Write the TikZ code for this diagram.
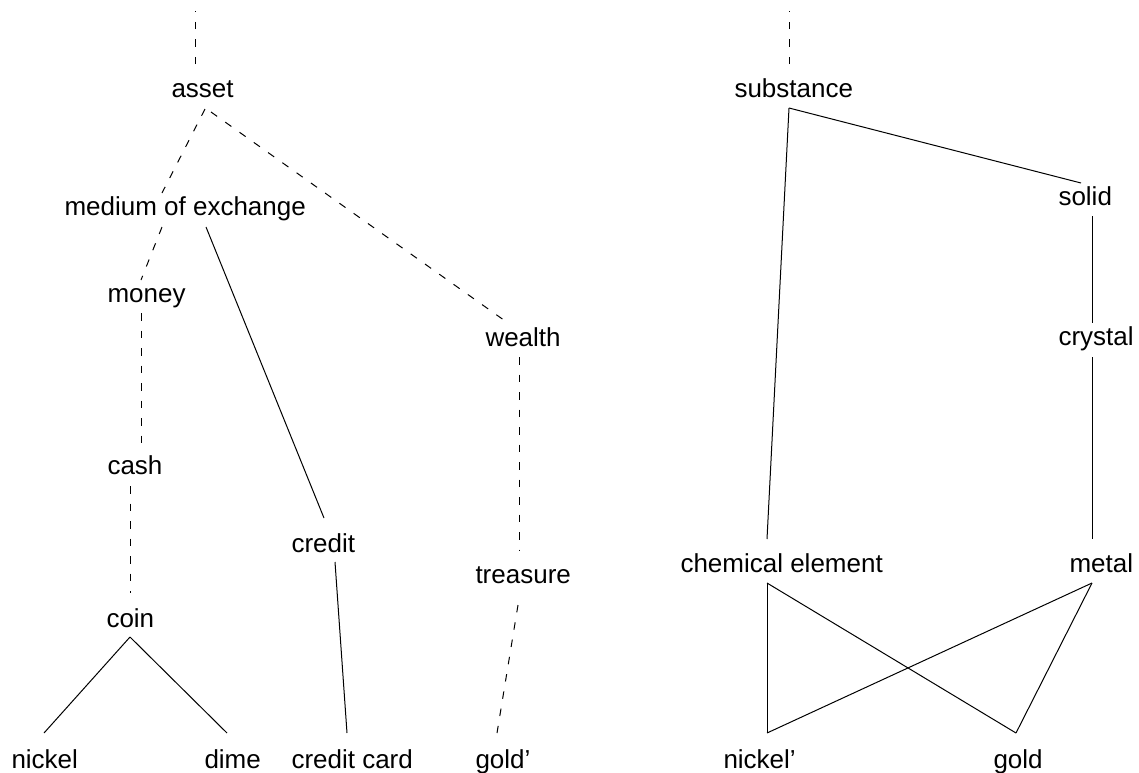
\documentclass[tikz,border=0pt]{standalone}
\usepackage{fontspec}
\setmainfont{Liberation Sans}
\begin{document}
\begin{tikzpicture}[x=1pt,y=-1pt,
  lbl/.style={anchor=base west, inner sep=0pt, outer sep=0pt, font=\fontsize{26}{31}\selectfont},
  link/.style={line width=1pt, black},
  dlink/.style={link, dash pattern=on 7.5pt off 10pt}]
\useasboundingbox (0,0) rectangle (1139,772);
% ---------- left tree: labels ----------
\node[lbl] (asset)  at (171.5,97)  {asset};
\node[lbl] (medium) at (64.5,215)  {medium of exchange};
\node[lbl] (money)  at (107.5,302) {money};
\node[lbl] (cash)   at (107.5,474) {cash};
\node[lbl] (coin)   at (106.5,627) {coin};
\node[lbl] (nickel) at (11.5,768)  {nickel};
\node[lbl] (dime)   at (204.5,768) {dime};
\node[lbl] (credit) at (291.5,552) {credit};
\node[lbl] (ccard)  at (291.5,768) {credit card};
\node[lbl] (wealth) at (485.5,346) {wealth};
\node[lbl] (treas)  at (475.5,583) {treasure};
\node[lbl] (goldp)  at (475.5,768) {gold’};
% ---------- right tree: labels ----------
\node[lbl] (subst)  at (734.5,97)  {substance};
\node[lbl] (solid)  at (1058.5,205) {solid};
\node[lbl] (cryst)  at (1058.5,345) {crystal};
\node[lbl] (chem)   at (680.5,572) {chemical element};
\node[lbl] (metal)  at (1069.5,572) {metal};
\node[lbl] (nickp)  at (723.5,768) {nickel’};
\node[lbl] (gold)   at (993.5,768) {gold};
% ---------- connection points (left) ----------
\coordinate (topL)     at (195,11);
\coordinate (assetT)   at (195,64);
\coordinate (assetB1)  at (205,109);
\coordinate (assetB2)  at (211,112);
\coordinate (mediumT)  at (162,193);
\coordinate (mediumB1) at (162,227);
\coordinate (mediumB2) at (206,227);
\coordinate (moneyT)   at (141,280);
\coordinate (moneyB)   at (141,313);
\coordinate (cashT)    at (141,443);
\coordinate (cashB)    at (130,486);
\coordinate (coinT)    at (130,593);
\coordinate (coinB)    at (130,637);
\coordinate (nickelT)  at (44,733);
\coordinate (dimeT)    at (227,733);
\coordinate (creditT)  at (324,518);
\coordinate (creditB)  at (335,562);
\coordinate (ccardT)   at (347,733);
\coordinate (wealthT)  at (508,323);
\coordinate (wealthB)  at (519,357);
\coordinate (treasT)   at (519,551);
\coordinate (treasB)   at (518,605);
\coordinate (goldpT)   at (497,733);
% ---------- connection points (right) ----------
\coordinate (topR)     at (789,11);
\coordinate (substT)   at (789,64);
\coordinate (substB)   at (789,108);
\coordinate (solidT)   at (1081,183);
\coordinate (solidB)   at (1092,216);
\coordinate (crystT)   at (1092,323);
\coordinate (crystB)   at (1092,357);
\coordinate (metalT)   at (1092,539);
\coordinate (metalB)   at (1092,583);
\coordinate (chemT)    at (767,539);
\coordinate (chemB)    at (767,583);
\coordinate (nickpT)   at (767,733);
\coordinate (goldT)    at (1016,733);
% ---------- connectors (left) ----------
\draw[dlink] (assetT) -- (topL);
\draw[dlink] (assetB1) -- (mediumT);
\draw[dlink] (assetB2) -- (wealthT);
\draw[dlink] (mediumB1) -- (moneyT);
\draw[link]  (mediumB2) -- (creditT);
\draw[dlink] (moneyB) -- (cashT);
\draw[dlink] (cashB) -- (coinT);
\draw[link]  (coinB) -- (nickelT);
\draw[link]  (coinB) -- (dimeT);
\draw[link]  (creditB) -- (ccardT);
\draw[dlink] (wealthB) -- (treasT);
\draw[dlink] (treasB) -- (goldpT);
% ---------- connectors (right) ----------
\draw[dlink] (substT) -- (topR);
\draw[link]  (substB) -- (solidT);
\draw[link]  (substB) -- (chemT);
\draw[link]  (solidB) -- (crystT);
\draw[link]  (crystB) -- (metalT);
\draw[link]  (chemB) -- (nickpT);
\draw[link]  (chemB) -- (goldT);
\draw[link]  (metalB) -- (nickpT);
\draw[link]  (metalB) -- (goldT);
\end{tikzpicture}
\end{document}
